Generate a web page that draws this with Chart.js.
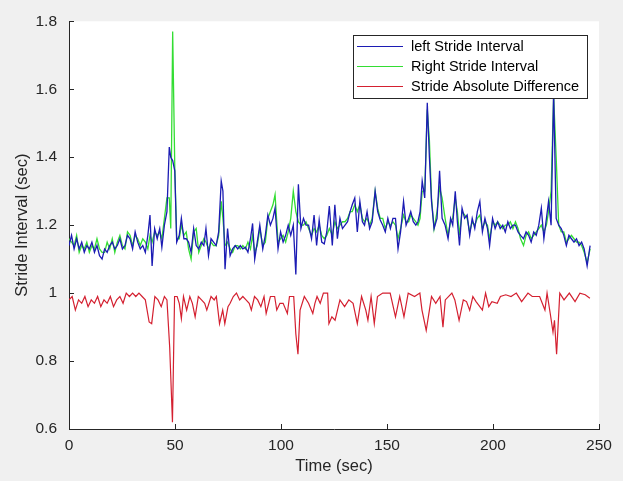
<!DOCTYPE html>
<html>
<head>
<meta charset="utf-8">
<script src="https://cdn.jsdelivr.net/npm/chart.js@4.4.1/dist/chart.umd.min.js"></script>
<style>
html,body{margin:0;padding:0;background:#f0f0f0;}
#wrap{width:623px;height:481px;position:relative;}
</style>
</head>
<body>
<div id="wrap"><canvas id="c" width="623" height="481"></canvas></div>
<script>
// ---- data ----
const seriesNames = ["left Stride Interval", "Right Stride Interval", "Stride Absolute Difference"];

const strideTime = [
  0.0,1.2,2.4,3.6,4.8,6.0,7.2,8.4,9.6,10.8,12.0,13.2,14.4,15.6,16.8,18.0,19.2,20.4,21.6,22.8,
  24.0,25.2,26.4,27.6,28.8,30.0,31.2,32.4,33.6,34.8,36.0,37.2,38.2,39.2,40.4,41.6,42.8,43.8,45.0,46.2,
  47.3,48.0,48.9,49.9,50.8,52.0,53.0,54.2,55.3,56.4,57.6,58.8,60.0,61.2,62.4,63.6,64.6,65.8,67.0,68.2,
  69.4,70.6,71.8,72.6,73.6,74.8,76.0,77.2,78.4,79.6,80.8,82.0,83.2,84.4,85.6,86.6,87.6,88.8,90.0,91.4,
  92.6,93.8,95.0,96.2,97.2,98.6,99.8,101.0,102.2,103.4,104.6,105.8,107.0,108.2,109.4,110.6,111.8,113.0,114.4,115.6,
  116.8,118.0,119.2,120.4,121.6,122.8,124.2,125.4,126.6,127.8,129.0,130.2,131.4,132.6,133.6,134.8,136.0,137.2,138.4,139.4,
  140.6,141.8,143.0,144.4,145.6,146.8,148.0,149.2,150.4,151.6,152.8,154.0,155.2,156.4,157.8,159.0,160.2,161.2,162.4,163.6,
  164.6,165.6,166.6,167.8,169.0,170.0,171.0,172.2,173.6,174.8,176.0,177.4,178.8,180.0,181.0,182.2,183.2,184.2,185.4,186.6,
  187.8,189.0,190.2,191.4,192.6,193.8,195.0,196.2,197.4,198.4,199.8,201.0,202.2,203.4,204.6,205.8,207.0,208.2,209.4,210.6,
  211.8,213.0,214.4,215.6,216.8,218.0,219.2,220.4,221.6,222.8,224.0,225.2,226.2,227.4,228.6,229.8,231.0,232.2,233.4,234.6,
  235.8,237.0,238.2,239.4,240.6,241.8,243.0,244.4,245.8
];

const leftStride = [
  1.14,1.17,1.13,1.16,1.13,1.15,1.12,1.14,1.13,1.15,1.12,1.14,1.11,1.10,1.13,1.12,1.14,1.15,1.13,1.14,
  1.16,1.13,1.14,1.17,1.16,1.13,1.18,1.15,1.13,1.14,1.12,1.17,1.23,1.08,1.19,1.16,1.19,1.135,1.20,1.24,
  1.43,1.40,1.39,1.36,1.15,1.17,1.22,1.16,1.16,1.15,1.12,1.19,1.14,1.13,1.15,1.14,1.19,1.11,1.16,1.15,
  1.14,1.18,1.33,1.30,1.07,1.19,1.11,1.13,1.14,1.13,1.14,1.13,1.135,1.12,1.16,1.205,1.10,1.15,1.20,1.13,
  1.17,1.23,1.20,1.22,1.25,1.13,1.18,1.15,1.17,1.20,1.17,1.20,1.055,1.32,1.19,1.22,1.20,1.20,1.16,1.23,
  1.14,1.215,1.15,1.145,1.18,1.256,1.14,1.26,1.16,1.22,1.19,1.20,1.21,1.24,1.26,1.28,1.18,1.27,1.21,1.20,
  1.24,1.19,1.21,1.30,1.24,1.215,1.20,1.18,1.22,1.19,1.22,1.22,1.13,1.18,1.27,1.20,1.22,1.24,1.21,1.20,
  1.21,1.24,1.33,1.28,1.56,1.40,1.27,1.19,1.22,1.36,1.22,1.20,1.16,1.22,1.20,1.30,1.21,1.14,1.25,1.22,
  1.23,1.17,1.22,1.19,1.24,1.27,1.18,1.22,1.19,1.14,1.22,1.19,1.21,1.19,1.20,1.18,1.21,1.19,1.20,1.20,
  1.18,1.17,1.16,1.18,1.17,1.15,1.18,1.17,1.20,1.25,1.16,1.22,1.27,1.20,1.59,1.22,1.20,1.19,1.17,1.14,
  1.17,1.16,1.15,1.16,1.14,1.15,1.13,1.08,1.14
];

const rightStride = [
  1.16,1.15,1.14,1.17,1.12,1.14,1.13,1.15,1.12,1.14,1.13,1.16,1.13,1.12,1.12,1.15,1.13,1.16,1.12,1.15,
  1.17,1.14,1.13,1.18,1.17,1.14,1.17,1.16,1.14,1.16,1.15,1.13,1.17,1.15,1.18,1.17,1.18,1.16,1.22,1.28,
  1.28,1.19,1.77,1.37,1.16,1.16,1.20,1.17,1.18,1.13,1.10,1.18,1.19,1.12,1.14,1.16,1.15,1.13,1.15,1.14,
  1.14,1.17,1.27,1.22,1.14,1.15,1.13,1.12,1.14,1.14,1.13,1.14,1.13,1.15,1.13,1.17,1.12,1.14,1.19,1.14,
  1.15,1.22,1.24,1.26,1.29,1.15,1.16,1.17,1.15,1.18,1.22,1.30,1.24,1.21,1.20,1.20,1.21,1.19,1.17,1.19,
  1.18,1.20,1.17,1.16,1.17,1.19,1.17,1.21,1.19,1.20,1.21,1.21,1.22,1.24,1.24,1.26,1.24,1.26,1.22,1.21,
  1.22,1.20,1.22,1.30,1.25,1.22,1.22,1.19,1.21,1.20,1.21,1.20,1.16,1.19,1.23,1.21,1.21,1.23,1.22,1.21,
  1.20,1.22,1.30,1.30,1.54,1.45,1.28,1.19,1.24,1.31,1.28,1.22,1.17,1.21,1.22,1.28,1.24,1.17,1.24,1.23,
  1.22,1.18,1.21,1.20,1.22,1.23,1.19,1.21,1.20,1.16,1.21,1.20,1.21,1.20,1.19,1.20,1.20,1.21,1.19,1.21,
  1.19,1.16,1.14,1.17,1.18,1.16,1.17,1.18,1.19,1.20,1.18,1.20,1.24,1.30,1.58,1.40,1.20,1.18,1.18,1.15,
  1.16,1.17,1.16,1.15,1.15,1.14,1.12,1.09,1.13
];

const diffTime = [
  0,1.5,3.0,4.5,6,7.5,9,10.5,12,13.5,15,16.5,18,19.5,21,22.5,24,25.5,27,28.5,
  30,31.5,33,34.5,36,37.8,39,40.5,42,43.5,45,46.2,47.5,48.8,49.8,51,52,53,54,55.5,
  57,58.2,59.5,61,62.5,64,65,67,68.5,69.5,71,72.5,73.5,75,76,77.5,79,80.5,82,83.5,
  85,86,87.5,89,90.5,92,93,95,97,98,99.5,101,103,104,106,107,108,109,111,113,
  115,116,117,118.5,120,122,122.6,124,125.5,127.8,130,132,134,136,138,140,141,142.5,144,145.5,
  148,151.5,154,156,158,160,163,165.5,166.5,168.5,170,171,173,175,176.4,177.5,180.6,182,184,186,
  187.5,189,190.5,192,195,196.5,198,199.5,202,203.5,206,208.5,211,213.5,216.5,218.5,222,224.5,225.5,227,
  228.3,229,230,231.5,233.5,236,238.7,241,243.5,245.7
];

const strideDiff = [
  0.98,0.99,0.95,0.98,0.97,0.99,0.96,0.98,0.97,0.99,0.96,0.98,0.97,0.99,0.96,0.98,0.99,0.97,1.00,0.99,
  1.00,0.99,1.00,0.99,0.98,0.915,0.91,0.99,0.98,0.96,0.99,0.98,0.84,0.62,0.99,0.99,0.97,0.925,0.99,0.95,
  0.99,0.97,0.93,0.99,0.98,0.97,0.95,0.99,0.98,0.99,0.91,0.95,0.91,0.96,0.97,0.99,1.00,0.98,0.99,0.98,
  0.97,0.95,0.99,0.98,0.96,0.99,0.94,0.99,0.99,0.95,0.97,0.97,0.94,0.99,0.99,0.88,0.82,0.95,0.99,0.97,
  0.94,0.97,0.99,0.97,1.00,1.00,0.91,0.93,0.92,0.98,0.96,0.98,0.97,0.91,0.99,0.95,0.92,0.99,0.91,0.99,
  1.00,1.00,0.93,0.99,0.93,1.00,0.99,1.00,0.95,0.89,0.95,0.99,0.97,0.99,0.90,0.98,1.00,0.98,0.92,0.98,
  0.975,0.95,0.99,0.975,0.95,1.00,0.96,0.975,0.97,0.99,0.995,0.99,1.00,0.975,1.00,0.99,0.99,0.95,1.00,0.94,
  0.885,0.92,0.82,1.00,0.98,1.00,0.975,1.00,0.995,0.985
];

const xTicks = [0, 50, 100, 150, 200, 250];
const yTicks = [0.6, 0.8, 1.0, 1.2, 1.4, 1.6, 1.8];

// ---- build chart ----
const FONT = "'Liberation Sans', Arial, Helvetica, sans-serif";
const AX = '#262626';
const toPts = (xs, ys) => xs.map((x, i) => ({x: x, y: ys[i]}));

const insideTicks = {
  id: 'insideTicks',
  afterDatasetsDraw(chart) {
    const {ctx, chartArea, scales} = chart;
    ctx.save();
    ctx.strokeStyle = AX;
    ctx.lineWidth = 1;
    ctx.beginPath();
    xTicks.forEach(v => {
      const px = Math.round(scales.x.getPixelForValue(v)) + 0.5;
      ctx.moveTo(px, chartArea.bottom);
      ctx.lineTo(px, chartArea.bottom - 5);
    });
    yTicks.forEach(v => {
      const py = Math.round(scales.y.getPixelForValue(v)) + 0.5;
      ctx.moveTo(chartArea.left, py);
      ctx.lineTo(chartArea.left + 5, py);
    });
    ctx.stroke();
    ctx.restore();
  }
};

const boxLegend = {
  id: 'boxLegend',
  afterDraw(chart) {
    const ctx = chart.ctx;
    const bx = 353.5, by = 35.5, bw = 234, bh = 63;
    ctx.save();
    ctx.fillStyle = '#ffffff';
    ctx.fillRect(bx, by, bw, bh);
    ctx.strokeStyle = AX;
    ctx.lineWidth = 1;
    ctx.strokeRect(bx, by, bw, bh);
    ctx.font = '14.5px ' + FONT;
    ctx.textBaseline = 'middle';
    ctx.textAlign = 'left';
    chart.data.datasets.forEach((ds, i) => {
      const y = 46.5 + i * 20;
      ctx.strokeStyle = ds.borderColor;
      ctx.lineWidth = 1;
      ctx.beginPath();
      ctx.moveTo(357, y);
      ctx.lineTo(403, y);
      ctx.stroke();
      ctx.fillStyle = '#000000';
      ctx.fillText(ds.label, 411, y);
    });
    ctx.restore();
  }
};

const bgPlugin = {
  id: 'bg',
  beforeDraw(chart) {
    const {ctx, chartArea} = chart;
    ctx.save();
    ctx.fillStyle = '#f0f0f0';
    ctx.fillRect(0, 0, chart.width, chart.height);
    ctx.fillStyle = '#ffffff';
    ctx.fillRect(chartArea.left, chartArea.top, chartArea.right - chartArea.left, chartArea.bottom - chartArea.top);
    ctx.restore();
  }
};

new Chart(document.getElementById('c'), {
  type: 'line',
  data: {
    datasets: [
      {label: seriesNames[0], data: toPts(strideTime, leftStride), borderColor: '#1c1cb4', borderWidth: 1.3, pointRadius: 0, tension: 0, fill: false},
      {label: seriesNames[1], data: toPts(strideTime, rightStride), borderColor: '#33dd33', borderWidth: 1.3, pointRadius: 0, tension: 0, fill: false},
      {label: seriesNames[2], data: toPts(diffTime, strideDiff), borderColor: '#d42030', borderWidth: 1.2, pointRadius: 0, tension: 0, fill: false}
    ]
  },
  options: {
    responsive: false,
    animation: false,
    devicePixelRatio: 1,
    layout: {padding: {top: 21, right: 24, left: 0, bottom: 0}},
    plugins: {legend: {display: false}, tooltip: {enabled: false}},
    scales: {
      x: {
        type: 'linear', min: 0, max: 250,
        afterBuildTicks: s => { s.ticks = xTicks.map(v => ({value: v})); },
        afterFit: s => { s.height = 52; },
        grid: {display: false, drawTicks: false},
        border: {display: true, color: AX, width: 1},
        ticks: {color: AX, font: {family: FONT, size: 15.5}, padding: 7, maxRotation: 0, callback: v => String(v)},
        title: {display: true, text: 'Time (sec)', color: AX, font: {family: FONT, size: 16.5}, padding: {top: 0, bottom: 5}}
      },
      y: {
        type: 'linear', min: 0.6, max: 1.8,
        afterBuildTicks: s => { s.ticks = yTicks.map(v => ({value: v})); },
        afterFit: s => { s.width = 69; },
        grid: {display: false, drawTicks: false},
        border: {display: true, color: AX, width: 1},
        ticks: {color: AX, font: {family: FONT, size: 15.5}, padding: 12, callback: v => String(Number(v.toFixed(1)))},
        title: {display: true, text: 'Stride Interval (sec)', color: AX, font: {family: FONT, size: 16.5}, padding: {top: 13, bottom: 0}}
      }
    }
  },
  plugins: [bgPlugin, insideTicks, boxLegend]
});
</script>
</body>
</html>
